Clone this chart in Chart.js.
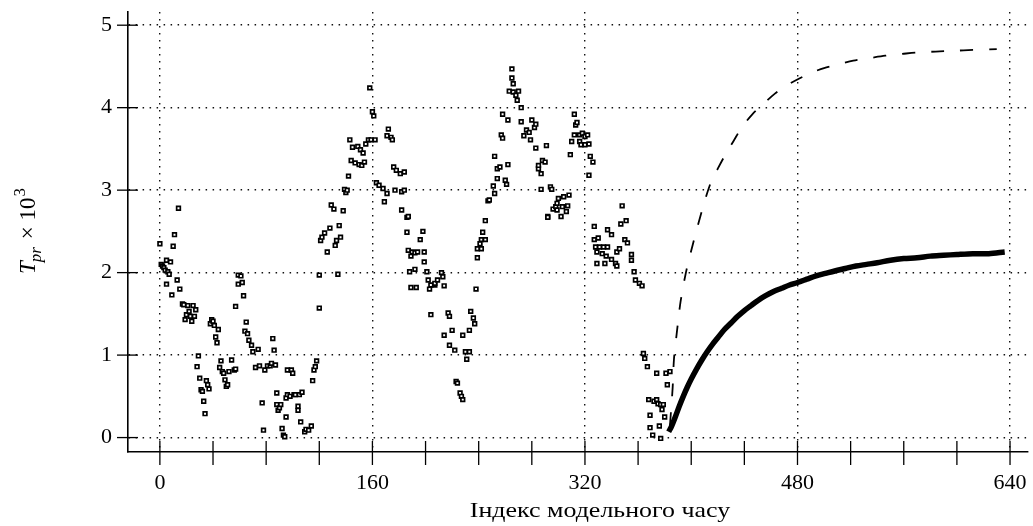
<!DOCTYPE html>
<html>
<head>
<meta charset="utf-8">
<script src="https://cdn.jsdelivr.net/npm/chart.js@4.4.1/dist/chart.umd.min.js"></script>
<style>
  html, body { margin: 0; padding: 0; background: #fff; }
  #wrap { width: 1033px; height: 526px; position: relative; }
</style>
</head>
<body>
<div id="wrap"><canvas id="myChart"></canvas></div>
<script>
// scattered estimates (time index -> value)
const scatterIndex = [
  0, 1, 2, 3, 4, 5, 5, 6, 7, 8, 9, 10, 11, 13, 14, 15, 17, 18, 19, 20,
  21, 22, 23, 24, 25, 26, 27, 28, 29, 30, 31, 32, 33, 34, 35, 36, 37, 38, 39, 40,
  41, 42, 43, 44, 45, 46, 47, 48, 49, 50, 51, 52, 54, 56, 57, 57, 59, 59, 61, 62,
  63, 64, 65, 66, 67, 69, 70, 72, 74, 75, 77, 78, 79, 81, 83, 84, 85, 86, 87, 88,
  88, 89, 90, 91, 92, 93, 94, 95, 95, 96, 96, 98, 99, 100, 101, 102, 104, 104, 105, 106,
  107, 109, 110, 112, 114, 115, 116, 117, 118, 120, 120, 121, 122, 124, 126, 128, 129, 131, 132, 133,
  134, 135, 136, 138, 139, 140, 141, 142, 143, 144, 145, 147, 149, 150, 151, 152, 153, 154, 155, 157,
  158, 159, 160, 161, 162, 163, 165, 168, 169, 171, 171, 172, 174, 175, 176, 177, 178, 181, 182, 182,
  184, 184, 186, 186, 187, 187, 188, 189, 189, 190, 192, 192, 193, 194, 196, 198, 199, 199, 201, 202,
  203, 204, 204, 207, 207, 209, 212, 213, 214, 214, 217, 218, 218, 220, 222, 223, 224, 226, 227, 228,
  228, 230, 231, 233, 233, 234, 236, 237, 238, 239, 239, 241, 242, 242, 243, 245, 245, 247, 248, 251,
  252, 252, 254, 254, 256, 257, 258, 258, 260, 261, 262, 262, 263, 265, 265, 266, 266, 268, 269, 270,
  272, 272, 274, 276, 278, 279, 280, 282, 283, 283, 285, 285, 287, 287, 288, 290, 291, 292, 292, 294,
  295, 296, 298, 299, 299, 300, 302, 303, 304, 306, 307, 308, 309, 310, 312, 312, 313, 314, 316, 316,
  317, 318, 320, 320, 322, 323, 323, 324, 326, 327, 327, 328, 329, 329, 330, 331, 333, 334, 335, 336,
  337, 337, 340, 340, 343, 344, 344, 346, 347, 348, 350, 351, 352, 355, 355, 357, 358, 361, 363, 364,
  365, 367, 368, 369, 369, 371, 372, 374, 374, 375, 376, 377, 377, 378, 379, 380, 381, 382, 384
];
const scatterValue = [
  2.35, 2.10, 2.08, 2.06, 2.03, 2.15, 1.86, 2.01, 1.98, 2.13, 1.73, 2.32, 2.46, 1.91, 2.78, 1.80, 1.62, 1.61, 1.43, 1.49,
  1.60, 1.53, 1.47, 1.41, 1.60, 1.47, 1.55, 0.86, 0.99, 0.72, 0.58, 0.56, 0.44, 0.29, 0.69, 0.64, 0.59, 1.38, 1.43, 1.41,
  1.36, 1.22, 1.15, 1.31, 0.85, 0.93, 0.80, 0.78, 0.70, 0.62, 0.64, 0.80, 0.94, 0.82, 0.83, 1.59, 1.97, 1.86, 1.96, 1.88,
  1.72, 1.29, 1.40, 1.26, 1.18, 1.12, 1.04, 0.85, 1.07, 0.87, 0.42, 0.09, 0.82, 0.87, 0.87, 0.90, 1.20, 1.06, 0.88, 0.54,
  0.40, 0.33, 0.36, 0.40, 0.11, 0.03, 0.01, 0.25, 0.48, 0.82, 0.52, 0.50, 0.82, 0.78, 0.52, 0.52, 0.38, 0.33, 0.52, 0.19,
  0.55, 0.07, 0.10, 0.09, 0.14, 0.69, 0.82, 0.86, 0.93, 1.57, 1.97, 2.39, 2.43, 2.48, 2.25, 2.54, 2.82, 2.77, 2.33, 2.39,
  1.98, 2.57, 2.43, 2.75, 3.01, 2.97, 3.00, 3.17, 3.61, 3.36, 3.52, 3.33, 3.53, 3.31, 3.49, 3.30, 3.45, 3.34, 3.56, 3.61,
  4.24, 3.61, 3.95, 3.90, 3.61, 3.09, 3.06, 3.02, 2.86, 2.96, 3.66, 3.74, 3.64, 3.61, 3.28, 3.00, 3.24, 3.20, 2.98, 2.76,
  3.22, 3.00, 2.67, 2.49, 2.27, 2.68, 2.01, 2.20, 1.82, 2.25, 2.24, 2.04, 1.82, 2.25, 2.40, 2.50, 2.25, 2.13, 2.01, 1.91,
  1.80, 1.85, 1.49, 1.85, 1.87, 1.91, 2.00, 1.95, 1.84, 1.24, 1.51, 1.47, 1.12, 1.30, 1.06, 0.68, 0.66, 0.54, 0.50, 0.46,
  1.24, 1.04, 0.95, 1.30, 1.04, 1.53, 1.45, 1.38, 1.80, 2.29, 2.18, 2.35, 2.40, 2.29, 2.49, 2.63, 2.40, 2.87, 2.88, 3.05,
  2.96, 3.41, 3.14, 3.26, 3.28, 3.67, 3.63, 3.92, 3.12, 3.07, 3.31, 3.85, 4.20, 4.47, 4.36, 4.29, 4.19, 4.15, 4.09, 4.20,
  4.00, 3.83, 3.66, 3.73, 3.70, 3.61, 3.85, 3.76, 3.80, 3.51, 3.26, 3.30, 3.20, 3.01, 3.36, 3.34, 3.54, 2.68, 2.67, 3.04,
  3.01, 2.77, 2.80, 2.84, 2.76, 2.90, 2.68, 2.80, 2.92, 2.74, 2.81, 2.94, 3.43, 3.59, 3.67, 3.92, 3.79, 3.82, 3.67, 3.59,
  3.55, 3.69, 3.65, 3.55, 3.67, 3.56, 3.18, 3.41, 3.34, 2.56, 2.40, 2.31, 2.25, 2.11, 2.42, 2.31, 2.23, 2.31, 2.11, 2.20,
  2.31, 2.52, 2.46, 2.16, 2.11, 2.25, 2.08, 2.29, 2.59, 2.81, 2.40, 2.63, 2.36, 2.22, 2.15, 2.01, 1.91, 1.87, 1.84, 1.02,
  0.96, 0.86, 0.46, 0.27, 0.12, 0.03, 0.44, 0.46, 0.78, 0.41, 0.14, 0.40, -0.01, 0.34, 0.40, 0.25, 0.78, 0.64, 0.80
];

// solid curve
const solidIndex = [383, 385, 388, 391, 394, 397, 400, 404, 408, 412, 416, 420, 425, 430, 435, 440, 445, 450, 456, 462,
  468, 474, 480, 487, 494, 501, 508, 516, 524, 532, 540, 550, 560, 570, 580, 590, 600, 612, 624, 636];
const solidValue = [0.07, 0.13, 0.25, 0.38, 0.50, 0.61, 0.71, 0.83, 0.94, 1.04, 1.13, 1.21, 1.31, 1.39, 1.47, 1.54, 1.60, 1.66, 1.72, 1.77,
  1.81, 1.85, 1.88, 1.92, 1.96, 1.99, 2.02, 2.05, 2.08, 2.10, 2.12, 2.15, 2.17, 2.18, 2.20, 2.21, 2.22, 2.23, 2.23, 2.25];

// dashed curve
const dashIndex = [384, 386, 387, 389, 392, 396, 401, 407, 414, 420, 426, 432, 438, 446, 454, 463, 472, 481, 490, 500,
  510, 522, 534, 546, 558, 570, 584, 598, 612, 630];
const dashValue = [0.15, 0.60, 0.95, 1.25, 1.65, 2.00, 2.33, 2.69, 3.06, 3.26, 3.44, 3.60, 3.76, 3.92, 4.04, 4.17, 4.27, 4.35, 4.42, 4.48,
  4.52, 4.57, 4.60, 4.63, 4.65, 4.67, 4.68, 4.69, 4.70, 4.71];

const xTickLabels = [0, 160, 320, 480, 640];
const yTickLabels = [0, 1, 2, 3, 4, 5];

const FONT = "'Liberation Serif', 'Times New Roman', serif";

function pairs(xs, ys) {
  return xs.map((x, i) => ({ x: x, y: ys[i] }));
}

const axisDecor = {
  id: "axisDecor",
  afterDraw(chart) {
    const ctx = chart.ctx;
    const xs = chart.scales.x;
    const ys = chart.scales.y;
    ctx.save();
    ctx.strokeStyle = "#000";
    ctx.lineWidth = 1.3;
    // crossing tick marks
    xs.ticks.forEach((t) => {
      const px = xs.getPixelForValue(t.value);
      ctx.beginPath();
      ctx.moveTo(px, xs.top - 11);
      ctx.lineTo(px, xs.top + 13);
      ctx.stroke();
    });
    ys.ticks.forEach((t) => {
      const py = ys.getPixelForValue(t.value);
      ctx.beginPath();
      ctx.moveTo(ys.right - 11, py);
      ctx.lineTo(ys.right + 10, py);
      ctx.stroke();
    });

    // x title
    ctx.fillStyle = "#000";
    ctx.save();
    ctx.translate(600, 517);
    ctx.scale(1.18, 1);
    ctx.font = "22px " + FONT;
    ctx.textAlign = "center";
    ctx.textBaseline = "alphabetic";
    ctx.fillText("Індекс модельного часу", 0, 0);
    ctx.restore();

    // y title: T_pr x 10^3, rotated
    ctx.translate(35, 274);
    ctx.rotate(-Math.PI / 2);
    ctx.textAlign = "left";
    ctx.textBaseline = "alphabetic";
    let x = 0;
    ctx.font = "italic 23px " + FONT;
    ctx.fillText("T", x, 0);
    x += ctx.measureText("T").width - 1;
    ctx.font = "italic 17px " + FONT;
    ctx.fillText("pr", x, 6);
    x += ctx.measureText("pr").width + 2;
    ctx.font = "23px " + FONT;
    ctx.fillText(" \u00d7 10", x, 0);
    x += ctx.measureText(" \u00d7 10").width + 1;
    ctx.font = "17px " + FONT;
    ctx.fillText("3", x, -10);
    ctx.restore();
  },
};

const data = {
  datasets: [
    {
      label: "scatter",
      data: pairs(scatterIndex, scatterValue),
      showLine: false,
      pointStyle: "rect",
      pointRadius: 2.6,
      pointBorderWidth: 1.7,
      pointBorderColor: "#000",
      pointBackgroundColor: "#fff",
    },
    {
      label: "solid",
      data: pairs(solidIndex, solidValue),
      showLine: true,
      borderColor: "#000",
      borderWidth: 5.5,
      pointRadius: 0,
      tension: 0.3,
    },
    {
      label: "dashed",
      data: pairs(dashIndex, dashValue),
      showLine: true,
      borderColor: "#000",
      borderWidth: 1.8,
      borderDash: [13, 16],
      pointRadius: 0,
      tension: 0.3,
    },
  ],
};

const config = {
  type: "scatter",
  data: data,
  options: {
    responsive: true,
    maintainAspectRatio: false,
    animation: false,
    layout: { padding: { left: 0, top: 12, right: 0, bottom: 0 } },
    plugins: {
      legend: { display: false },
      tooltip: { enabled: false },
    },
    scales: {
      x: {
        type: "linear",
        min: -24,
        max: 653,
        afterBuildTicks: (axis) => {
          axis.ticks = axis.ticks.filter((t) => t.value >= 0 && t.value <= 640 && t.value % 40 === 0);
        },
        afterFit: (axis) => {
          axis.height = 74;
          axis.paddingLeft = 0;
          axis.paddingRight = 0;
        },
        ticks: {
          stepSize: 40,
          includeBounds: false,
          padding: 18,
          color: "#000",
          font: { family: FONT, size: 22 },
          maxRotation: 0,
          autoSkip: false,
          callback: (v) => (xTickLabels.includes(v) ? String(v) : ""),
        },
        grid: {
          drawTicks: false,
          lineWidth: 1.4,
          color: (c) => (c.tick && xTickLabels.includes(c.tick.value) ? "#111" : "rgba(0,0,0,0)"),
        },
        border: { display: true, color: "#000", width: 1.6, dash: [1.5, 5.5] },
      },
      y: {
        type: "linear",
        min: -0.175,
        max: 5.16,
        afterBuildTicks: (axis) => {
          axis.ticks = axis.ticks.filter((t) => yTickLabels.includes(t.value));
        },
        afterFit: (axis) => {
          axis.width = 128;
          axis.paddingTop = 0;
          axis.paddingBottom = 0;
        },
        ticks: {
          stepSize: 1,
          includeBounds: false,
          padding: 16,
          color: "#000",
          font: { family: FONT, size: 22 },
          callback: (v) => String(v),
        },
        grid: {
          drawTicks: false,
          lineWidth: 1.4,
          color: "#111",
        },
        border: { display: true, color: "#000", width: 1.6, dash: [1.5, 5.5] },
      },
    },
  },
  plugins: [axisDecor],
};

const myChart = new Chart(document.querySelector("#myChart"), config);
</script>
</body>
</html>
